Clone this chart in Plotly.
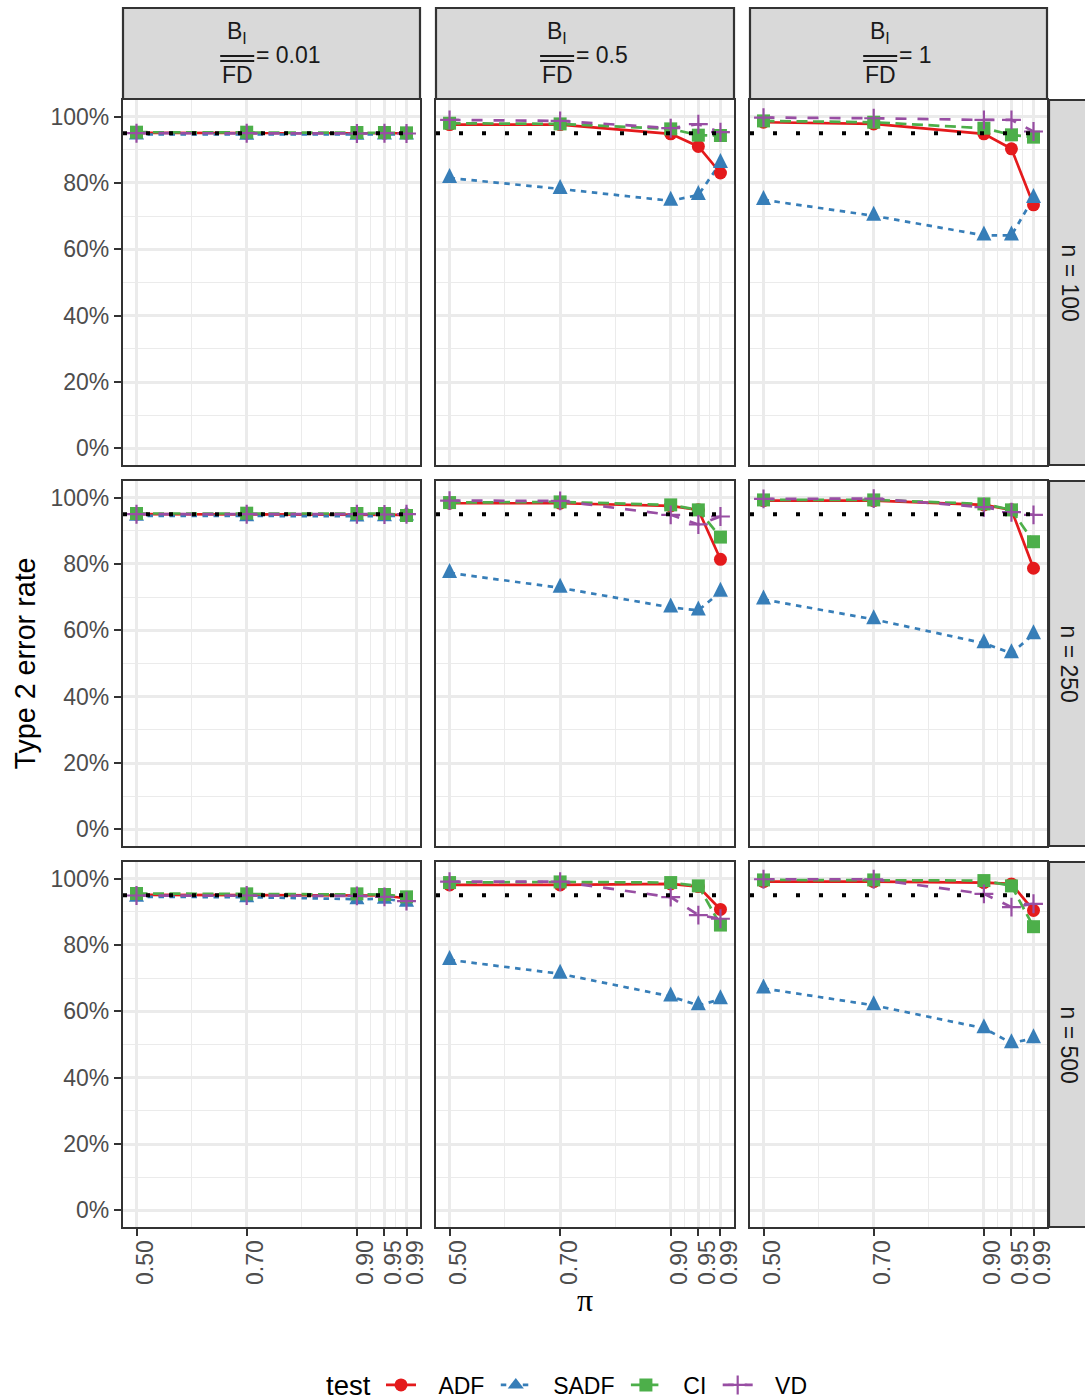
import plotly.graph_objects as go

W, H = 1085, 1400

# ---------------- data ----------------
pi_values = [0.50, 0.70, 0.90, 0.95, 0.99]
pi_labels = ["0.50", "0.70", "0.90", "0.95", "0.99"]
pi_minor = [0.60, 0.80, 0.925, 0.97]
y_breaks = [0.0, 0.2, 0.4, 0.6, 0.8, 1.0]
y_labels = ["0%", "20%", "40%", "60%", "80%", "100%"]
y_minor = [0.1, 0.3, 0.5, 0.7, 0.9]
ratio_labels = ["0.01", "0.5", "1"]
n_labels = ["100", "250", "500"]
tests = ["ADF", "SADF", "CI", "VD"]
reference_level = 0.95

# Type 2 error rate in %; inner lists = B_I/FD ratio 0.01, 0.5, 1; values over pi
adf_n100 = [[95.1, 95.0, 95.1, 95.0, 95.0],
            [97.6, 97.6, 94.8, 91.0, 83.0],
            [98.3, 97.8, 94.8, 90.3, 73.4]]
sadf_n100 = [[94.6, 94.5, 94.5, 94.6, 94.6],
             [81.5, 78.2, 74.6, 76.4, 86.0],
             [74.9, 70.1, 64.2, 64.2, 75.5]]
ci_n100 = [[95.3, 95.3, 95.2, 95.2, 95.1],
           [98.0, 97.8, 96.3, 94.4, 94.3],
           [98.7, 98.3, 96.5, 94.5, 93.8]]
vd_n100 = [[95.0, 95.0, 94.9, 95.0, 94.9],
           [99.0, 98.7, 96.5, 97.7, 95.3],
           [99.7, 99.5, 99.0, 99.0, 95.5]]

adf_n250 = [[95.0, 95.0, 94.9, 95.0, 94.8],
            [98.3, 98.3, 97.5, 96.3, 81.4],
            [99.1, 99.1, 97.8, 96.3, 78.7]]
sadf_n250 = [[94.5, 94.4, 94.3, 94.4, 94.6],
             [77.3, 72.8, 66.9, 66.0, 71.6],
             [69.3, 63.3, 56.1, 53.1, 58.8]]
ci_n250 = [[95.2, 95.3, 95.2, 95.2, 94.6],
           [98.5, 98.7, 97.8, 96.3, 88.1],
           [99.3, 99.3, 98.1, 96.3, 86.7]]
vd_n250 = [[95.0, 95.0, 95.0, 94.9, 95.0],
           [99.1, 99.0, 94.8, 91.9, 94.3],
           [99.6, 99.7, 97.1, 95.6, 94.8]]

adf_n500 = [[95.1, 95.0, 95.1, 94.9, 94.0],
            [98.1, 98.1, 98.4, 97.6, 90.7],
            [99.1, 99.1, 98.8, 98.4, 90.4]]
sadf_n500 = [[94.5, 94.4, 93.8, 93.9, 93.0],
             [75.5, 71.3, 64.5, 61.8, 63.6],
             [66.9, 61.8, 54.9, 50.4, 51.9]]
ci_n500 = [[95.5, 95.4, 95.4, 95.2, 94.5],
           [98.8, 99.0, 98.8, 97.8, 86.0],
           [99.6, 99.6, 99.4, 97.8, 85.5]]
vd_n500 = [[94.9, 94.9, 94.8, 94.5, 93.2],
           [99.1, 99.1, 94.4, 89.0, 87.9],
           [99.8, 99.8, 95.4, 91.4, 92.4]]

series = {
    "ADF": [adf_n100, adf_n250, adf_n500],
    "SADF": [sadf_n100, sadf_n250, sadf_n500],
    "CI": [ci_n100, ci_n250, ci_n500],
    "VD": [vd_n100, vd_n250, vd_n500],
}

# ---------------- styles ----------------
colors = {"ADF": "#E41A1C", "SADF": "#377EB8", "CI": "#4DAF4A", "VD": "#984EA3"}
dashes = {"ADF": "solid", "SADF": "5.5px,5.5px", "CI": "11px,5.5px", "VD": "11px,11px"}
markers = {
    "ADF": dict(symbol="circle", size=13, color=colors["ADF"]),
    "SADF": dict(symbol="arrow-down", angle=180, standoff=10, size=15, color=colors["SADF"]),
    "CI": dict(symbol="square", size=13, color=colors["CI"]),
    "VD": dict(symbol="cross-thin", size=13.5, color=colors["VD"],
               line=dict(width=2.2, color=colors["VD"])),
}
legend_markers = dict(markers)
legend_markers["SADF"] = dict(symbol="triangle-up", size=14, color=colors["SADF"])

LW = 2.7
FONT = "Liberation Sans, Arial, Helvetica, sans-serif"
BORDER = "#333333"
GRID = "#EBEBEB"
STRIP = "#D9D9D9"
NB = "\u00a0"
THIN = "\u2009"

col_px = [(123, 420), (436, 734), (750, 1047)]
row_px = [(100, 465), (481, 846), (862, 1227)]
strip_top = (8, 99)
strip_right = (1049, 1095)


def xp(px):
    return px / W


def yp(px):
    return 1 - px / H


span = max(pi_values) - min(pi_values)
x_range = [min(pi_values) - 0.05 * span, max(pi_values) + 0.05 * span]
y_range = [y_breaks[0] - 0.05 * (y_breaks[-1] - y_breaks[0]),
           y_breaks[-1] + 0.05 * (y_breaks[-1] - y_breaks[0])]

fig = go.Figure()
layout_axes = {}
shapes = []
annotations = []

for r in range(3):
    for c in range(3):
        k = r * 3 + c
        sfx = "" if k == 0 else str(k + 1)
        xa = dict(
            domain=[xp(col_px[c][0]), xp(col_px[c][1])],
            range=x_range, anchor="y" + sfx,
            tickvals=pi_values, ticktext=pi_labels,
            showgrid=True, gridcolor=GRID, gridwidth=2.7,
            minor=dict(tickvals=pi_minor, showgrid=True, gridcolor=GRID, gridwidth=1.4, ticks=""),
            zeroline=False, showline=True, mirror=True, linecolor=BORDER, linewidth=2.2,
            automargin=False, fixedrange=True,
        )
        ya = dict(
            domain=[yp(row_px[r][1]), yp(row_px[r][0])],
            range=y_range, anchor="x" + sfx,
            tickvals=y_breaks, ticktext=y_labels,
            showgrid=True, gridcolor=GRID, gridwidth=2.7,
            minor=dict(tickvals=y_minor, showgrid=True, gridcolor=GRID, gridwidth=1.4, ticks=""),
            zeroline=False, showline=True, mirror=True, linecolor=BORDER, linewidth=2.2,
            automargin=False, fixedrange=True,
        )
        if r == 2:
            xa.update(ticks="outside", ticklen=7, tickwidth=2.2, tickcolor=BORDER,
                      showticklabels=True, tickangle=-90,
                      ticklabelshift=9, ticklabelstandoff=-5,
                      tickfont=dict(size=23, color="#4D4D4D", family=FONT))
        else:
            xa.update(ticks="", showticklabels=False)
        if c == 0:
            ya.update(ticks="outside", ticklen=7, tickwidth=2.2, tickcolor=BORDER,
                      showticklabels=True,
                      tickfont=dict(size=23, color="#4D4D4D", family=FONT))
        else:
            ya.update(ticks="", showticklabels=False)
        layout_axes["xaxis" + sfx] = xa
        layout_axes["yaxis" + sfx] = ya

        # reference line
        shapes.append(dict(type="line", xref="x" + sfx + " domain", yref="y" + sfx,
                           x0=0, x1=1, y0=reference_level, y1=reference_level,
                           line=dict(color="black", width=4, dash="4px,19px"),
                           layer="above"))

# lines first (all series), then points, as in the layered original
for r in range(3):
    for c in range(3):
        k = r * 3 + c
        sfx = "" if k == 0 else str(k + 1)
        for t in tests:
            vals = [v / 100 for v in series[t][r][c]]
            fig.add_trace(go.Scatter(
                x=pi_values, y=vals, mode="lines", xaxis="x" + sfx, yaxis="y" + sfx,
                line=dict(color=colors[t], width=LW, dash=dashes[t]),
                showlegend=False, hoverinfo="skip"))
for r in range(3):
    for c in range(3):
        k = r * 3 + c
        sfx = "" if k == 0 else str(k + 1)
        for t in tests:
            vals = [v / 100 for v in series[t][r][c]]
            fig.add_trace(go.Scatter(
                x=pi_values, y=vals, mode="markers", xaxis="x" + sfx, yaxis="y" + sfx,
                marker=markers[t], showlegend=False, name=t))

# legend entries
for t in tests:
    fig.add_trace(go.Scatter(
        x=[None], y=[None], mode="lines+markers", name=NB * 2 + THIN + t + NB, xaxis="x", yaxis="y",
        line=dict(color=colors[t], width=LW, dash=dashes[t], backoff=0),
        marker=legend_markers[t], showlegend=True))

# ---------------- strips ----------------
char_w = {"=": 0.584, " ": 0.278, ".": 0.278}


def text_width(s, size):
    return sum(char_w.get(ch, 0.556) for ch in s) * size


for c in range(3):
    shapes.append(dict(type="rect", xref="paper", yref="paper",
                       x0=xp(col_px[c][0]), x1=xp(col_px[c][1]),
                       y0=yp(strip_top[1]), y1=yp(strip_top[0]),
                       fillcolor=STRIP, line=dict(color=BORDER, width=2.2), layer="below"))
    cx = (col_px[c][0] + col_px[c][1]) / 2
    eq = "= " + ratio_labels[c]
    tw = text_width(eq, 23)
    frac_w = 34
    total = frac_w + 4 + tw
    left = cx - total / 2
    fc = left + frac_w / 2
    annotations.append(dict(text="B<sub>I</sub>", x=xp(fc), y=yp(32), xref="paper", yref="paper",
                            xanchor="center", yanchor="middle", showarrow=False,
                            font=dict(size=23, color="#1A1A1A", family=FONT)))
    annotations.append(dict(text="FD", x=xp(fc), y=yp(75), xref="paper", yref="paper",
                            xanchor="center", yanchor="middle", showarrow=False,
                            font=dict(size=23, color="#1A1A1A", family=FONT)))
    annotations.append(dict(text=eq, x=xp(left + frac_w), y=yp(55), xref="paper", yref="paper",
                            xanchor="left", yanchor="middle", showarrow=False,
                            font=dict(size=23, color="#1A1A1A", family=FONT)))
    for yb in (56, 61):
        shapes.append(dict(type="line", xref="paper", yref="paper",
                           x0=xp(left), x1=xp(left + frac_w), y0=yp(yb), y1=yp(yb),
                           line=dict(color="#1A1A1A", width=1.8), layer="above"))

for r in range(3):
    shapes.append(dict(type="rect", xref="paper", yref="paper",
                       x0=xp(strip_right[0]), x1=xp(strip_right[1]),
                       y0=yp(row_px[r][1]), y1=yp(row_px[r][0]),
                       fillcolor=STRIP, line=dict(color=BORDER, width=2.2), layer="below"))
    annotations.append(dict(text="n = " + n_labels[r], x=xp(1069), y=yp((row_px[r][0] + row_px[r][1]) / 2),
                            xref="paper", yref="paper", xanchor="center", yanchor="middle",
                            textangle=90, showarrow=False,
                            font=dict(size=23, color="#1A1A1A", family=FONT)))

# axis titles
annotations.append(dict(text="Type 2 error rate", x=xp(24), y=yp((row_px[0][0] + row_px[2][1]) / 2),
                        xref="paper", yref="paper", xanchor="center", yanchor="middle",
                        textangle=-90, showarrow=False,
                        font=dict(size=28.7, color="black", family=FONT)))
annotations.append(dict(text="π", x=xp((col_px[0][0] + col_px[2][1]) / 2), y=yp(1300),
                        xref="paper", yref="paper", xanchor="center", yanchor="middle",
                        showarrow=False,
                        font=dict(size=32, color="black", family="Liberation Serif, DejaVu Serif, serif")))
# legend title
annotations.append(dict(text="test", x=xp(324), y=yp(1385), xref="paper", yref="paper",
                        xanchor="left", yanchor="middle", showarrow=False,
                        font=dict(size=27.5, color="black", family=FONT)))

fig.update_layout(
    template="none",
    width=W, height=H,
    margin=dict(l=0, r=0, t=0, b=0, pad=0, autoexpand=False),
    paper_bgcolor="white", plot_bgcolor="white",
    font=dict(family=FONT, size=23, color="#1A1A1A"),
    showlegend=True,
    legend=dict(orientation="h", x=xp(381), xanchor="left", y=yp(1385), yanchor="middle",
                font=dict(size=23, color="black", family=FONT),
                bgcolor="rgba(0,0,0,0)", borderwidth=0, itemwidth=30),
    shapes=shapes,
    annotations=annotations,
    **layout_axes,
)

# remove the page's default 8px body margin so the 1085x1400 figure fills the window
page_fix = (
    "document.documentElement.style.margin='0px';"
    "document.body.style.margin='0px';"
    "document.body.style.padding='0px';"
    "var gd=document.querySelector('.plotly-graph-div');"
    "if(gd){gd.style.overflow='hidden';}"
)
fig.write_html("out.html", config={"displayModeBar": False}, post_script=page_fix)
